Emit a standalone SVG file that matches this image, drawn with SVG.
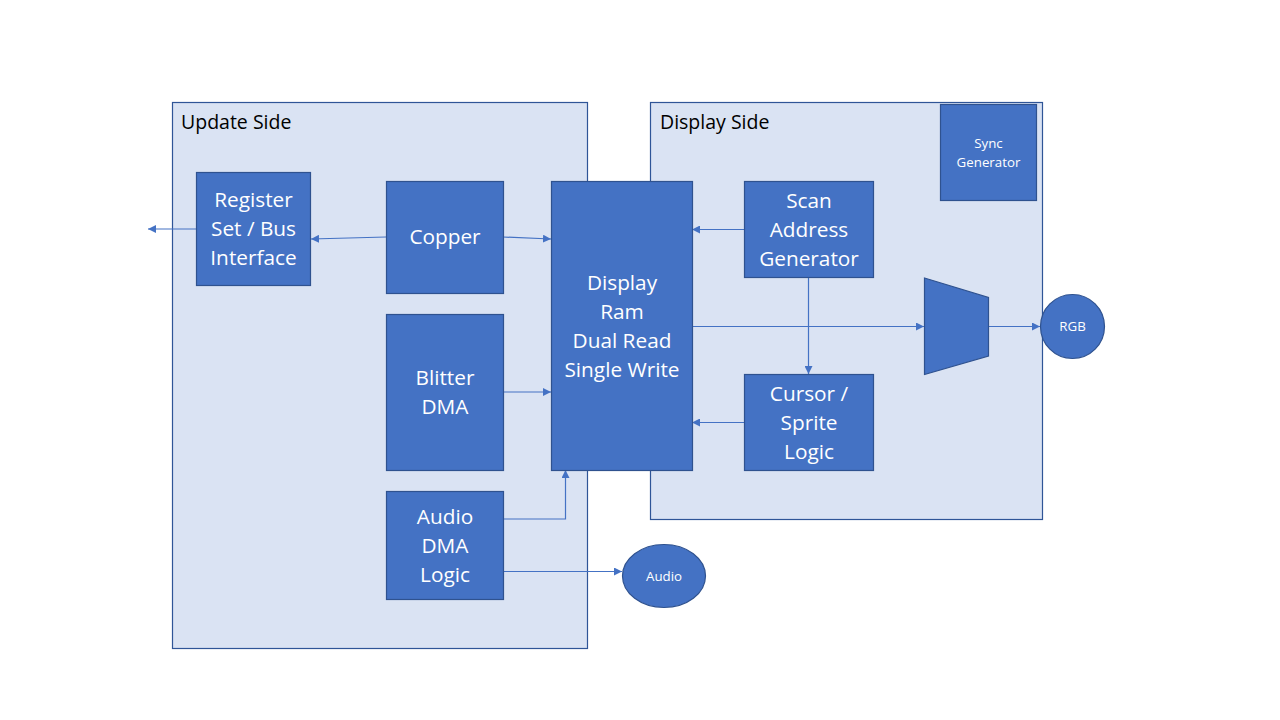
<svg xmlns="http://www.w3.org/2000/svg" width="1280" height="720" viewBox="0 0 1280 720">
<defs>
<style>
.panel{fill:#DAE3F3;stroke:#2F5597;stroke-width:1.2}
.node{fill:#4472C4;stroke:#2F528F;stroke-width:1.2}
.t{font-family:"Open Sans","Noto Sans",sans-serif;fill:#FFFFFF;font-size:20.8px;text-anchor:middle}
.ts{font-family:"Open Sans","Noto Sans",sans-serif;fill:#FFFFFF;font-size:13.3px;text-anchor:middle}
.title{font-family:"Open Sans","Noto Sans",sans-serif;fill:#000000;font-size:19.5px}
.c{fill:none;stroke:#4472C4;stroke-width:1.2}
</style>
<marker id="arr" viewBox="0 0 10 10" refX="10" refY="5" markerWidth="8" markerHeight="8" markerUnits="userSpaceOnUse" orient="auto">
<path d="M0,0 L10,5 L0,10 z" fill="#4472C4"/>
</marker>
</defs>
<rect width="1280" height="720" fill="#FFFFFF"/>
<g id="update-side">
<rect class="panel" x="172.5" y="102.5" width="415" height="546"/>
<text class="title" x="181" y="129">Update Side</text>
</g>
<g id="display-side">
<rect class="panel" x="650.5" y="102.5" width="392" height="417"/>
<text class="title" x="660" y="129">Display Side</text>
</g>
<g id="connectors">
<line class="c" x1="196" y1="229" x2="148" y2="229" marker-end="url(#arr)"/>
<line class="c" x1="386" y1="237" x2="311" y2="239" marker-end="url(#arr)"/>
<line class="c" x1="503" y1="237" x2="551" y2="239" marker-end="url(#arr)"/>
<line class="c" x1="503" y1="392" x2="551" y2="392" marker-end="url(#arr)"/>
<polyline class="c" points="503,519 565.5,519 565.5,470" marker-end="url(#arr)"/>
<line class="c" x1="503" y1="571.5" x2="622" y2="571.5" marker-end="url(#arr)"/>
<line class="c" x1="744" y1="229.5" x2="692" y2="229.5" marker-end="url(#arr)"/>
<line class="c" x1="744" y1="422.5" x2="692" y2="422.5" marker-end="url(#arr)"/>
<line class="c" x1="808.5" y1="277" x2="808.5" y2="374" marker-end="url(#arr)"/>
<line class="c" x1="692" y1="326.5" x2="924" y2="326.5" marker-end="url(#arr)"/>
<line class="c" x1="989" y1="326.5" x2="1040" y2="326.5" marker-end="url(#arr)"/>
</g>
<g id="register">
<rect class="node" x="196.5" y="172.5" width="114" height="113"/>
<text class="t"><tspan x="253.5" y="207">Register</tspan><tspan x="253.5" y="236">Set / Bus</tspan><tspan x="253.5" y="265">Interface</tspan></text>
</g>
<g id="copper">
<rect class="node" x="386.5" y="181.5" width="117" height="112"/>
<text class="t" x="445" y="244">Copper</text>
</g>
<g id="blitter">
<rect class="node" x="386.5" y="314.5" width="117" height="156"/>
<text class="t"><tspan x="445" y="385">Blitter</tspan><tspan x="445" y="414">DMA</tspan></text>
</g>
<g id="audio-dma">
<rect class="node" x="386.5" y="491.5" width="117" height="108"/>
<text class="t"><tspan x="445" y="524">Audio</tspan><tspan x="445" y="553">DMA</tspan><tspan x="445" y="582">Logic</tspan></text>
</g>
<g id="display-ram">
<rect class="node" x="551.5" y="181.5" width="141" height="289"/>
<text class="t"><tspan x="622" y="290">Display</tspan><tspan x="622" y="319">Ram</tspan><tspan x="622" y="348">Dual Read</tspan><tspan x="622" y="377">Single Write</tspan></text>
</g>
<g id="scan">
<rect class="node" x="744.5" y="181.5" width="129" height="96"/>
<text class="t"><tspan x="809" y="208">Scan</tspan><tspan x="809" y="237">Address</tspan><tspan x="809" y="266">Generator</tspan></text>
</g>
<g id="cursor">
<rect class="node" x="744.5" y="374.5" width="129" height="96"/>
<text class="t"><tspan x="809" y="401">Cursor /</tspan><tspan x="809" y="430">Sprite</tspan><tspan x="809" y="459">Logic</tspan></text>
</g>
<g id="sync">
<rect class="node" x="940.5" y="104.5" width="96" height="96"/>
<text class="ts"><tspan x="988.5" y="148">Sync</tspan><tspan x="988.5" y="167">Generator</tspan></text>
</g>
<g id="mux">
<polygon class="node" points="924.5,278 988.5,297.5 988.5,356 924.5,374.5"/>
</g>
<g id="rgb">
<circle class="node" cx="1072.5" cy="326.5" r="32"/>
<text class="ts" x="1072.5" y="331">RGB</text>
</g>
<g id="audio">
<ellipse class="node" cx="664" cy="576" rx="41.5" ry="31.5"/>
<text class="ts" x="664" y="581">Audio</text>
</g>
</svg>
